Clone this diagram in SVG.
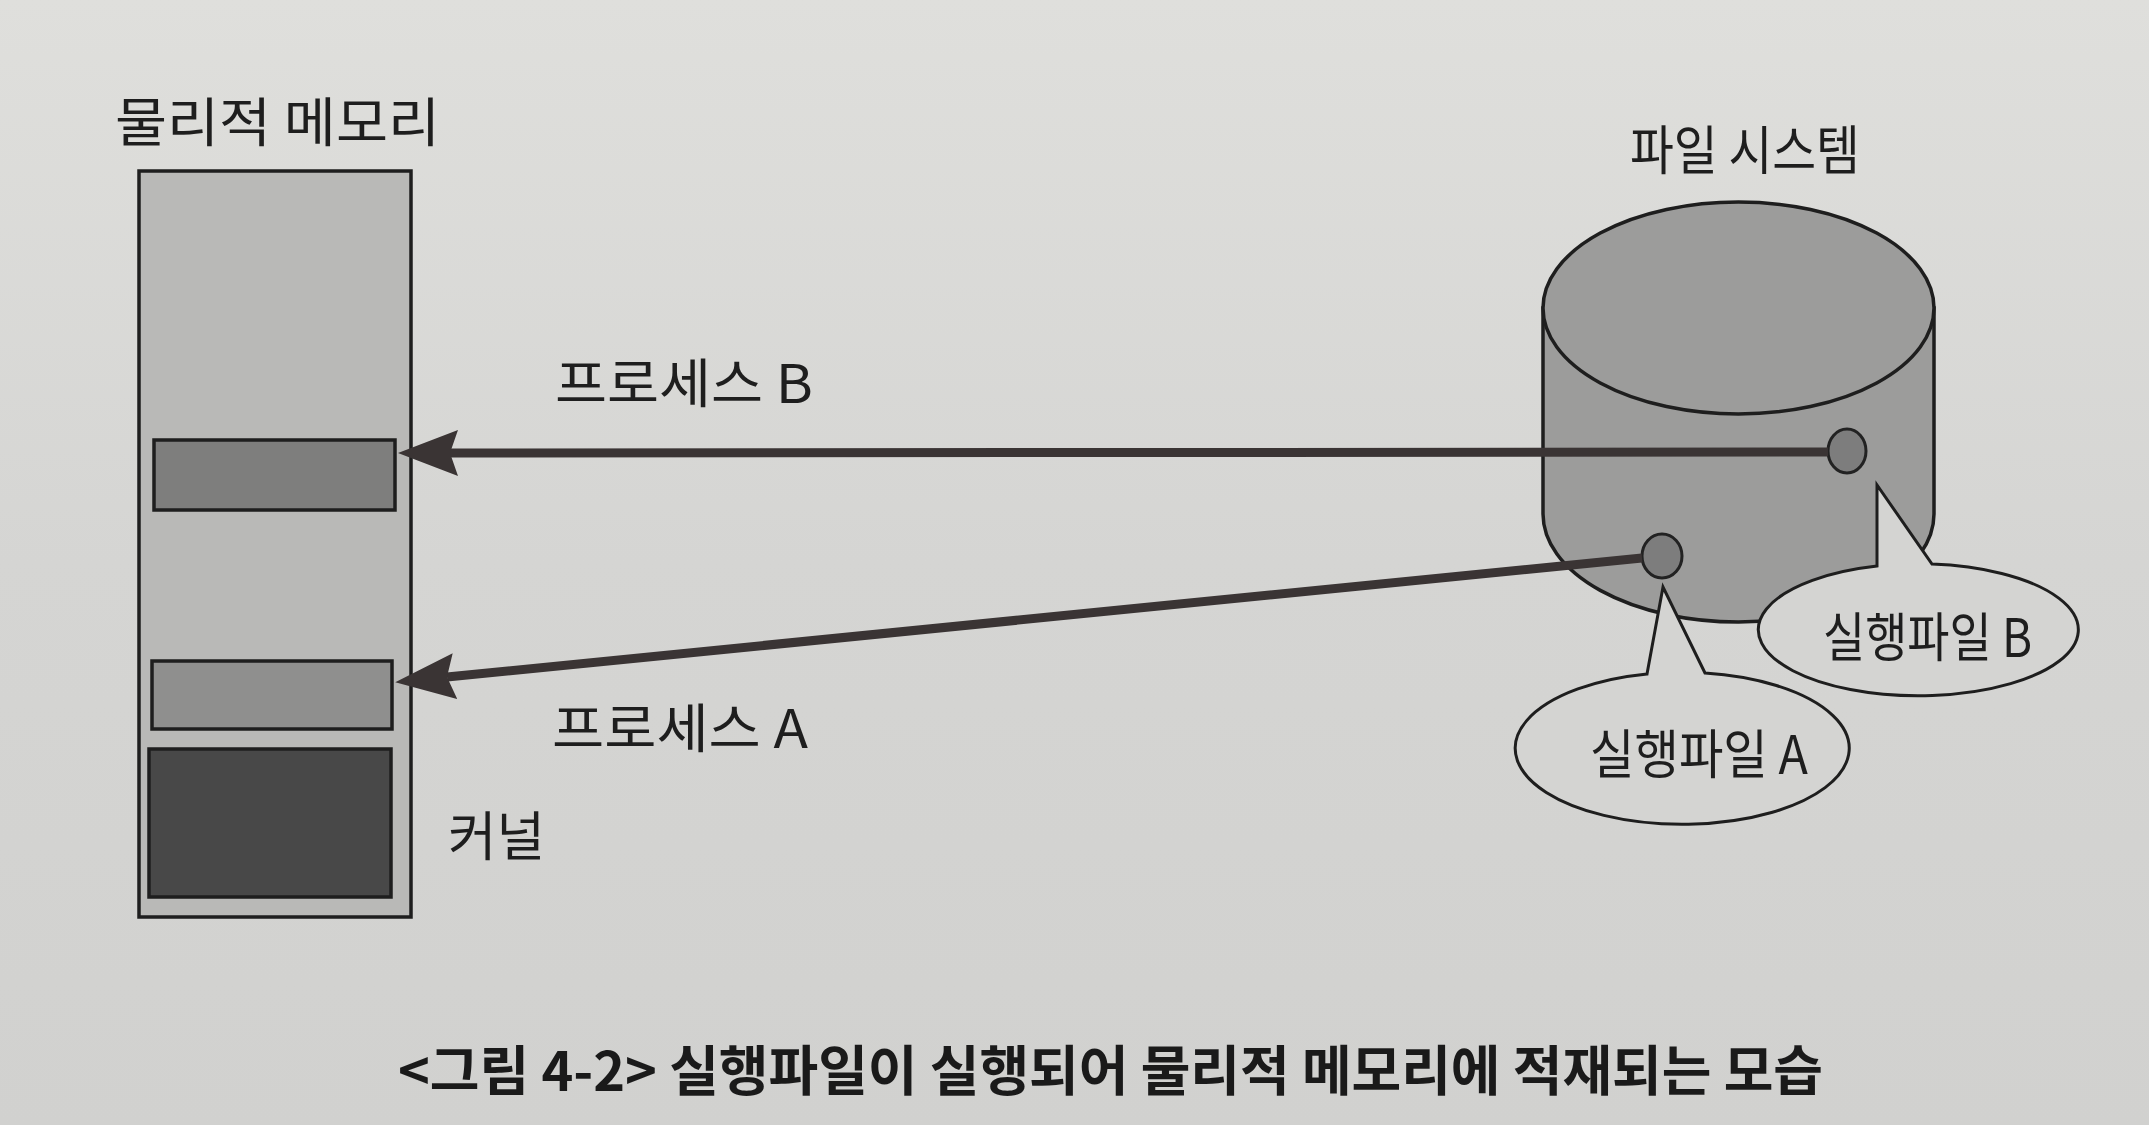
<svg xmlns="http://www.w3.org/2000/svg" width="2149" height="1125" viewBox="0 0 2149 1125">
  <defs>
    <linearGradient id="bg" x1="0" y1="0" x2="0" y2="1">
      <stop offset="0" stop-color="#dfdfdc"/>
      <stop offset="0.5" stop-color="#d5d5d3"/>
      <stop offset="1" stop-color="#d1d1cf"/>
    </linearGradient>
    <marker id="arrow" markerUnits="userSpaceOnUse" markerWidth="62" markerHeight="46" viewBox="0 0 62 46" refX="8" refY="23" orient="auto">
      <path d="M0 0 L60 23 L0 46 L8 23 Z" fill="#3a3434"/>
    </marker>
    <style>
      .lbl { font-family: "Noto Sans CJK KR", "Noto Sans", sans-serif; font-size: 53px; fill: #1e1e1e; }
      .cap { font-family: "Noto Sans CJK KR", "Noto Sans", sans-serif; font-size: 54px; font-weight: bold; fill: #1a1a1a; }
      .ol { stroke: #1e1e1e; stroke-width: 3.5; }
      .conn { stroke: #3a3434; stroke-width: 9; fill: none; marker-end: url(#arrow); }
      .dot { fill: #7d7d7d; stroke: #222; stroke-width: 3; }
      .bubble { fill: #d4d4d2; stroke: #1e1e1e; stroke-width: 3; }
    </style>
  </defs>

  <rect x="0" y="0" width="2149" height="1125" fill="url(#bg)"/>

  <g id="physical-memory">
    <text class="lbl" x="115" y="142" textLength="325" lengthAdjust="spacingAndGlyphs">물리적 메모리</text>
    <rect class="ol" x="139" y="171" width="272" height="746" fill="#b9b9b7"/>
  </g>

  <g id="process-b">
    <rect class="ol" x="154" y="440" width="241" height="70" fill="#7e7e7d"/>
    <text class="lbl" x="555" y="403" textLength="258" lengthAdjust="spacingAndGlyphs">프로세스 B</text>
  </g>

  <g id="process-a">
    <rect class="ol" x="152" y="661" width="240" height="68" fill="#8f8f8e"/>
    <text class="lbl" x="552" y="748" textLength="256" lengthAdjust="spacingAndGlyphs">프로세스 A</text>
  </g>

  <g id="kernel">
    <rect class="ol" x="149" y="749" width="242" height="148" fill="#484848"/>
    <text class="lbl" x="448" y="856" textLength="97" lengthAdjust="spacingAndGlyphs">커널</text>
  </g>

  <g id="file-system">
    <text class="lbl" x="1630" y="170" textLength="230" lengthAdjust="spacingAndGlyphs">파일 시스템</text>
    <path class="ol" d="M1543 308 L1543 514 A195.5 108 0 0 0 1934 514 L1934 308 Z" fill="#9c9c9b"/>
    <ellipse class="ol" cx="1738.5" cy="308" rx="195.5" ry="106" fill="#9c9c9b"/>
    <ellipse class="dot" cx="1847" cy="451" rx="19" ry="22"/>
    <ellipse class="dot" cx="1662" cy="556" rx="20" ry="22"/>
  </g>

  <g id="exec-file-b">
    <path class="bubble" d="M1877 566 L1877 485 L1932 564 A160 66 0 1 1 1877 566 Z"/>
    <text class="lbl" x="1823" y="657" textLength="209" lengthAdjust="spacingAndGlyphs">실행파일 B</text>
  </g>

  <g id="exec-file-a">
    <path class="bubble" d="M1647 674 L1663 587 L1705 673 A167 76 0 1 1 1647 674 Z"/>
    <text class="lbl" x="1590" y="774" textLength="218" lengthAdjust="spacingAndGlyphs">실행파일 A</text>
  </g>

  <g id="connectors">
    <line class="conn" x1="1828" y1="452" x2="450" y2="453"/>
    <line class="conn" x1="1642" y1="558" x2="447" y2="677"/>
  </g>

  <g id="caption">
    <text class="cap" x="398" y="1091" textLength="1425" lengthAdjust="spacingAndGlyphs">&lt;그림 4-2&gt; 실행파일이 실행되어 물리적 메모리에 적재되는 모습</text>
  </g>
</svg>
